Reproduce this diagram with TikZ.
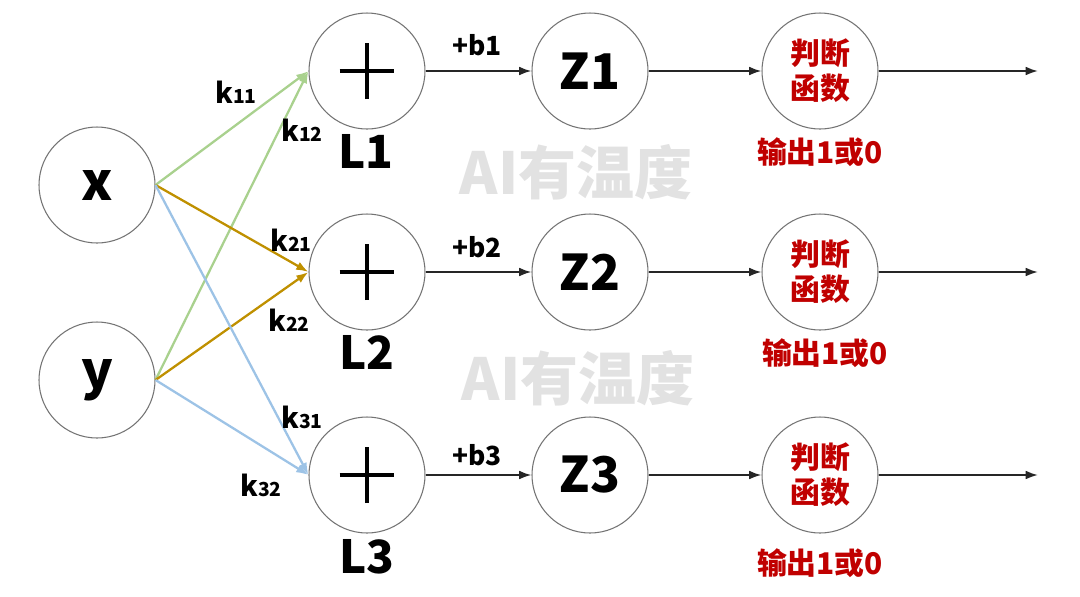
\documentclass[tikz,border=0pt]{standalone}
\usepackage{fontspec}
\setmainfont{Noto Sans CJK SC}
\usetikzlibrary{arrows.meta, positioning}

\definecolor{kgreen}{HTML}{A9D18E}
\definecolor{kgold}{HTML}{BF9000}
\definecolor{kblue}{HTML}{9DC3E6}
\definecolor{judred}{HTML}{C00000}
\definecolor{wmgray}{HTML}{E2E2E2}
\definecolor{flowgray}{HTML}{262626}

\newcommand{\kw}[1]{k{\fontsize{11}{11}\selectfont #1}}

\tikzset{
  neuron/.style={circle, draw=black!55, line width=0.6pt, minimum size=2.32cm,
    inner sep=0pt, font=\fontsize{28}{28}\selectfont\bfseries},
  judge/.style={neuron, text=judred, align=center,
    font=\fontsize{17}{20}\selectfont\bfseries},
  weight/.style={line width=1.3pt, -{Latex[length=7pt,width=5pt]}},
  flow/.style={line width=1.1pt, draw=flowgray, -{Latex[length=7pt,width=5pt]}},
  plusmark/.style={line width=2.2pt, line cap=butt},
  klabel/.style={font=\fontsize{16}{16}\selectfont\bfseries},
  blabel/.style={font=\fontsize{15}{15}\selectfont\bfseries},
  layername/.style={font=\fontsize{26}{26}\selectfont\bfseries},
  outlabel/.style={text=judred, font=\fontsize{17}{17}\selectfont\bfseries},
  watermark/.style={text=wmgray, font=\fontsize{33}{33}\selectfont\bfseries}
}

\begin{document}
\begin{tikzpicture}[x=0.02cm, y=-0.02cm]
\useasboundingbox (0,0) rectangle (1080,596);

% watermarks
\node[watermark] (wm1) at (576,172) {AI有温度};
\node[watermark] (wm2) at (578,378) {AI有温度};

% inputs
\node[neuron, font=\fontsize{30}{30}\selectfont\bfseries] (x) at (97,185) {x};
\node[neuron, font=\fontsize{30}{30}\selectfont\bfseries] (y) at (97,380) {y};

% three rows: sum, z, judge
\foreach \i/\yy in {1/71, 2/272, 3/475} {
  \node[neuron] (L\i) at (367,\yy) {};
  \draw[plusmark] ([xshift=-0.55cm]L\i.center) -- ([xshift=0.55cm]L\i.center);
  \draw[plusmark] ([yshift=-0.56cm]L\i.center) -- ([yshift=0.56cm]L\i.center);
  \node[neuron] (Z\i) at (590,\yy) {Z\i};
  \node[judge] (J\i) at (820,\yy) {判断\\函数};
  \coordinate (O\i) at (1038,\yy);
  \draw[flow] (L\i) -- (Z\i);
  \draw[flow] (J\i) -- (O\i);
  \draw[flow] (Z\i) -- (J\i);
}

% layer names and outputs
\node[layername] (n1) at (366,151) {L1};
\node[layername] (n2) at (367,352) {L2};
\node[layername] (n3) at (367,557) {L3};
\node[outlabel] (o1) at (820,152) {输出1或0};
\node[outlabel] (o2) at (825,353) {输出1或0};
\node[outlabel] (o3) at (820,563) {输出1或0};

% biases
\node[blabel] (b1) at (477,45) {+b1};
\node[blabel] (b2) at (477,247) {+b2};
\node[blabel] (b3) at (477,455) {+b3};

% weights
\draw[weight, kgreen] (x.east) -- (L1.west);
\draw[weight, kgreen] (y.east) -- (L1.west);
\draw[weight, kgold] (x.east) -- (L2.west);
\draw[weight, kgold] (y.east) -- (L2.west);
\draw[weight, kblue] (x.east) -- (L3.west);
\draw[weight, kblue] (y.east) -- (L3.west);

\node[klabel] (k11) at (236,92) {\kw{11}};
\node[klabel] (k12) at (302,130) {\kw{12}};
\node[klabel] (k21) at (291,240) {\kw{21}};
\node[klabel] (k22) at (289,320) {\kw{22}};
\node[klabel] (k31) at (302,417) {\kw{31}};
\node[klabel] (k32) at (261,485) {\kw{32}};
\end{tikzpicture}
\end{document}
